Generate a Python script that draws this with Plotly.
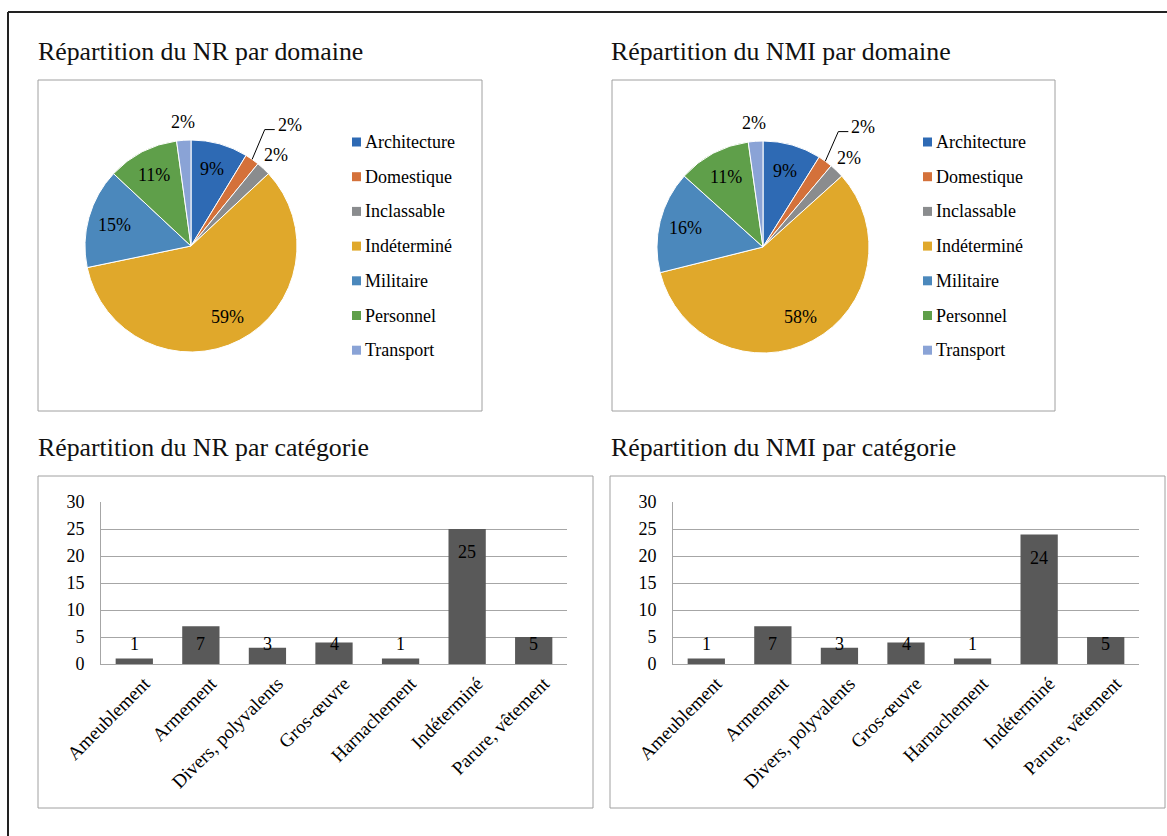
import math
import plotly.graph_objects as go

# ---------------- data ----------------
domaines = ["Architecture", "Domestique", "Inclassable", "Indéterminé",
            "Militaire", "Personnel", "Transport"]
nr_domaine = [4, 1, 1, 27, 7, 5, 1]
nmi_domaine = [4, 1, 1, 26, 7, 5, 1]

categories = ["Ameublement", "Armement", "Divers, polyvalents", "Gros-œuvre",
              "Harnachement", "Indéterminé", "Parure, vêtement"]
nr_categorie = [1, 7, 3, 4, 1, 25, 5]
nmi_categorie = [1, 7, 3, 4, 1, 24, 5]

y_ticks = [0, 5, 10, 15, 20, 25, 30]

titres = ["Répartition du NR par domaine", "Répartition du NMI par domaine",
          "Répartition du NR par catégorie", "Répartition du NMI par catégorie"]

# ---------------- styles ----------------
couleurs = ["#2e6ab4", "#d4713a", "#8a8c8e", "#e0a82b", "#4b88bc", "#5f9f4a", "#8aa3d6"]
leader_labels = {"Domestique"}
FONT = "Liberation Serif, Times New Roman, serif"
W, H = 1167, 836
BAR_COLOR = "#595959"
GRID = "#a6a6a6"
BOX = "#a0a0a0"
TXT = 18


def px(x):
    return x / W


def py(y):
    return 1 - y / H


fig = go.Figure()
annotations = []
shapes = []

# outer frame
shapes.append(dict(type="line", xref="paper", yref="paper", x0=px(8), x1=px(1167), y0=py(12), y1=py(12),
                   line=dict(color="#222222", width=2)))
shapes.append(dict(type="line", xref="paper", yref="paper", x0=px(8), x1=px(8), y0=py(12), y1=py(836),
                   line=dict(color="#222222", width=2)))

# chart boxes
boxes = [(38, 80, 482, 411), (612, 80, 1055, 411), (38, 476, 593, 808), (610, 476, 1165, 808)]
for (x0, y0, x1, y1) in boxes:
    shapes.append(dict(type="rect", xref="paper", yref="paper", x0=px(x0), x1=px(x1), y0=py(y0), y1=py(y1),
                       line=dict(color=BOX, width=1)))

# titles
title_pos = [(36, 52), (609, 52), (36, 447), (609, 447)]
for t, (x, y) in zip(titres, title_pos):
    annotations.append(dict(text=t, xref="paper", yref="paper", x=px(x), y=py(y), xanchor="left",
                            yanchor="middle", showarrow=False, font=dict(family=FONT, size=25.8, color="#111")))


def label(txt, x, y, xanchor="center"):
    return dict(text=txt, xref="paper", yref="paper", x=px(x), y=py(y), xanchor=xanchor,
                yanchor="middle", showarrow=False, font=dict(family=FONT, size=TXT, color="black"))


# ---------------- pies ----------------
pies = [(nr_domaine, 191, 246, 106, 352), (nmi_domaine, 763, 247, 106, 923)]
for values, cx, cy, R, lx in pies:
    fig.add_trace(go.Pie(
        labels=domaines, values=values, sort=False, direction="clockwise", rotation=0,
        marker=dict(colors=couleurs, line=dict(color="white", width=1)),
        textinfo="none", hoverinfo="label+value+percent", showlegend=False, automargin=False,
        domain=dict(x=[px(cx - R), px(cx + R)], y=[py(cy + R), py(cy - R)]),
    ))
    total = sum(values)
    cum = 0
    for lab, v in zip(domaines, values):
        frac = v / total
        a = 2 * math.pi * (cum + v / 2) / total
        cum += v
        txt = f"{round(100 * frac)}%"
        s, c = math.sin(a), math.cos(a)
        if frac >= 0.05:
            r = 0.75 * R
            annotations.append(label(txt, cx + r * s, cy - r * c))
        elif lab in leader_labels:
            x0, y0 = cx + R * s, cy - R * c
            a1 = a - 0.05
            x1, y1 = cx + 1.3 * R * math.sin(a1), cy - 1.3 * R * math.cos(a1)
            x2 = x1 + 10
            shapes.append(dict(type="path", xref="paper", yref="paper",
                               path=f"M {px(x0)},{py(y0)} L {px(x1)},{py(y1)} L {px(x2)},{py(y1)}",
                               line=dict(color="black", width=1)))
            annotations.append(label(txt, x2 + 1, y1 - 5, xanchor="left"))
        else:
            r = R + 18
            annotations.append(label(txt, cx + r * s, cy - r * c))
    # legend
    for i, (lab, col) in enumerate(zip(domaines, couleurs)):
        yy = 142 + i * 34.7
        shapes.append(dict(type="rect", xref="paper", yref="paper", x0=px(lx), x1=px(lx + 9),
                           y0=py(yy + 4.5), y1=py(yy - 4.5), fillcolor=col, line=dict(width=0)))
        annotations.append(label(lab, lx + 11, yy, xanchor="left"))

# ---------------- bars ----------------
bar_sets = [(nr_categorie, "x", "y", (101, 567)), (nmi_categorie, "x2", "y2", (673, 1139))]
for k, (vals, xa, ya, (xl, xr)) in enumerate(bar_sets):
    fig.add_trace(go.Bar(x=categories, y=vals, xaxis=xa, yaxis=ya, showlegend=False,
                         marker=dict(color=BAR_COLOR, line=dict(width=0)), hoverinfo="x+y"))
    sfx = "" if k == 0 else "2"
    fig.layout["xaxis" + sfx] = dict(domain=[px(xl), px(xr)], anchor="y" + sfx, tickangle=-45,
                                     showline=True, linecolor=GRID, linewidth=1, ticks="",
                                     showgrid=False, automargin=False, ticklabelshift=10,
                                     tickfont=dict(family=FONT, size=19, color="black"),
                                     fixedrange=True)
    fig.layout["yaxis" + sfx] = dict(domain=[py(664), py(502)], anchor="x" + sfx, range=[0, 30],
                                     tickvals=y_ticks, showgrid=True, gridcolor=GRID, gridwidth=1,
                                     showline=True, linecolor=GRID, linewidth=1, ticks="", zeroline=False,
                                     ticklabelstandoff=12, automargin=False,
                                     tickfont=dict(family=FONT, size=TXT, color="black"), fixedrange=True)
    for cat, v in zip(categories, vals):
        annotations.append(dict(text=str(v), xref=xa, yref=ya, x=cat, y=max(v - 4.3, 3.7),
                                xanchor="center", yanchor="middle",
                                showarrow=False, font=dict(family=FONT, size=TXT, color="black")))

fig.update_layout(
    width=W, height=H, autosize=False,
    margin=dict(l=0, r=0, t=0, b=0, pad=0),
    paper_bgcolor="white", plot_bgcolor="white",
    bargap=0.44,
    annotations=annotations, shapes=shapes,
    font=dict(family=FONT, color="black"),
)

fig.write_html("out.html", config={"displayModeBar": False},
               post_script="document.body.style.margin='0';document.body.style.overflow='hidden';")
